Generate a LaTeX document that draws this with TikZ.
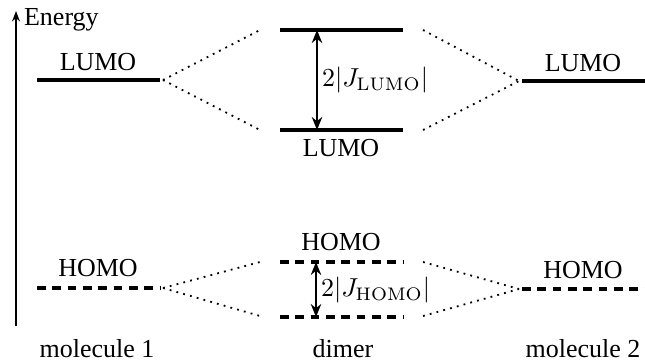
\documentclass[tikz,border=0pt]{standalone}
\usepackage[no-math]{fontspec}
\setmainfont{Liberation Serif}
\usetikzlibrary{arrows.meta}

\begin{document}
\begin{tikzpicture}[x=0.385pt, y=-0.385pt,
    lumo/.style={line width=1.2pt},
    homo/.style={line width=1.2pt, dash pattern=on 3.4pt off 2.5pt},
    mix/.style={dotted, line width=0.7pt},
    split/.style={line width=0.9pt, {Stealth[length=5pt,width=4pt]}-{Stealth[length=5pt,width=4pt]}}]
    \useasboundingbox (0,0) rectangle (645,363);
    % Energy axis
    \coordinate (ax0) at (16,326);
    \coordinate (ax1) at (16,11);
    \draw[line width=1pt, -{Stealth[length=4pt,width=3pt]}] (ax0) -- (ax1);
    \node[anchor=west, inner sep=1pt] (energy) at (21,20) {Energy};
    % molecule 1
    \coordinate (l1a) at (37,80);  \coordinate (l1b) at (160,80);
    \coordinate (h1a) at (37,288); \coordinate (h1b) at (160,288);
    \draw[lumo] (l1a) -- (l1b);
    \draw[homo] (h1a) -- (h1b);
    \node (lumo1) at (98,62) {LUMO};
    \node (homo1) at (98,268) {HOMO};
    % dimer
    \coordinate (lpa) at (280,30);  \coordinate (lpb) at (403,30);
    \coordinate (lma) at (280,130); \coordinate (lmb) at (403,130);
    \coordinate (hpa) at (280,262); \coordinate (hpb) at (403,262);
    \coordinate (hma) at (280,317); \coordinate (hmb) at (403,317);
    \draw[lumo] (lpa) -- (lpb);
    \draw[lumo] (lma) -- (lmb);
    \draw[homo] (hpa) -- (hpb);
    \draw[homo] (hma) -- (hmb);
    \node (lumod) at (341,148) {LUMO};
    \node (homod) at (341,242) {HOMO};
    \coordinate (jl0) at (317,30);  \coordinate (jl1) at (317,130);
    \coordinate (jh0) at (316,262); \coordinate (jh1) at (316,317);
    \draw[split] (jl0) -- (jl1);
    \draw[split] (jh0) -- (jh1);
    \node[anchor=west, inner sep=1pt] (jlumo) at (319,80) {$2|J_{\mathrm{LUMO}}|$};
    \node[anchor=west, inner sep=1pt] (jhomo) at (318,290) {$2|J_{\mathrm{HOMO}}|$};
    % molecule 2
    \coordinate (l2a) at (522,81);  \coordinate (l2b) at (645,81);
    \coordinate (h2a) at (522,289); \coordinate (h2b) at (645,289);
    \draw[lumo] (l2a) -- (l2b);
    \draw[homo] (h2a) -- (h2b);
    \node (lumo2) at (583,63) {LUMO};
    \node (homo2) at (583,270) {HOMO};
    % dotted mixing lines
    \coordinate (m1l) at (163,80);  \coordinate (m1h) at (163,288);
    \coordinate (m2l) at (519,81);  \coordinate (m2h) at (519,289);
    \coordinate (dlpl) at (260,30);  \coordinate (dlml) at (260,130);
    \coordinate (dhpl) at (260,262); \coordinate (dhml) at (260,316);
    \coordinate (dlpr) at (423,30);  \coordinate (dlmr) at (423,130);
    \coordinate (dhpr) at (423,262); \coordinate (dhmr) at (423,316);
    \draw[mix] (m1l) -- (dlpl);
    \draw[mix] (m1l) -- (dlml);
    \draw[mix] (m1h) -- (dhpl);
    \draw[mix] (m1h) -- (dhml);
    \draw[mix] (dlpr) -- (m2l);
    \draw[mix] (dlmr) -- (m2l);
    \draw[mix] (dhpr) -- (m2h);
    \draw[mix] (dhmr) -- (m2h);
    % captions
    \node (mol1) at (97,349) {molecule 1};
    \node (dimer) at (343,349) {dimer};
    \node (mol2) at (583,349) {molecule 2};
\end{tikzpicture}
\end{document}
